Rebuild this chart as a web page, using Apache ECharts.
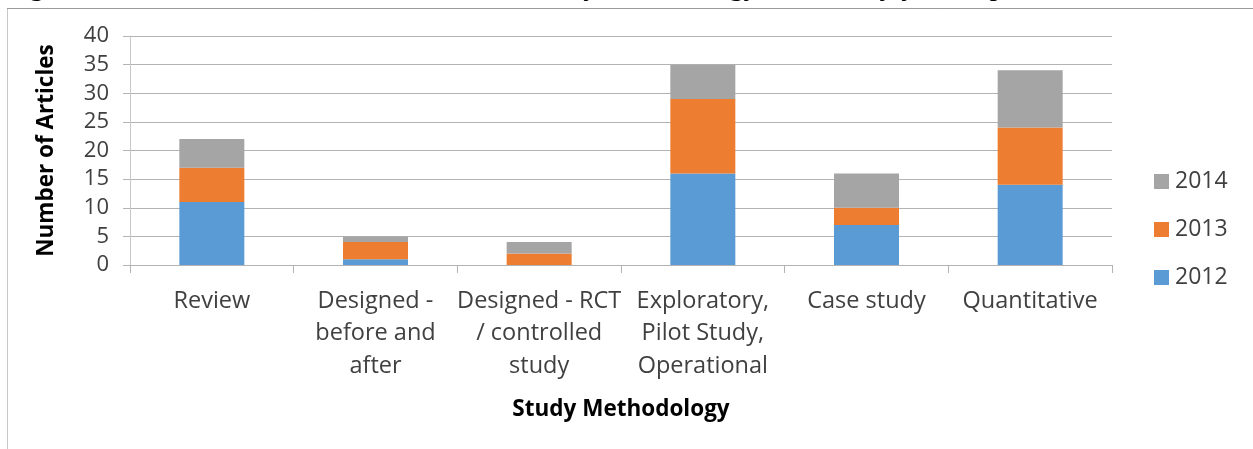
<!DOCTYPE html>
<html>
<head>
<meta charset="utf-8">
<script src="https://cdn.jsdelivr.net/npm/echarts@6/dist/echarts.min.js"></script>
<style>
  html, body { margin: 0; padding: 0; background: #fff; }
  #chart { width: 1253px; height: 449px; }
</style>
</head>
<body>
<div id="chart"></div>
<script>
// data
var categories = [
    'Review',
    'Designed -\nbefore and\nafter',
    'Designed - RCT\n/ controlled\nstudy',
    'Exploratory,\nPilot Study,\nOperational',
    'Case study',
    'Quantitative'
];
var years = ['2012', '2013', '2014'];
var y2012 = [11, 1, 0, 16, 7, 14];
var y2013 = [6, 3, 2, 13, 3, 10];
var y2014 = [5, 1, 2, 6, 6, 10];
var yTicks = [0, 5, 10, 15, 20, 25, 30, 35, 40];

var colors = ['#5B9BD5', '#ED7D31', '#A5A5A5'];
var font = '"Open Sans", "Noto Sans", sans-serif';

var chart = echarts.init(document.getElementById('chart'));

function makeSeries(name, data, color) {
    return {
        name: name,
        type: 'bar',
        stack: 'total',
        barWidth: 65,
        data: data,
        itemStyle: { color: color },
        emphasis: { disabled: true }
    };
}

var option = {
    animation: false,
    textStyle: { fontFamily: font },
    graphic: [
        // outer frame of the figure box
        {
            type: 'rect',
            shape: { x: 7.5, y: 8.5, width: 1300, height: 500 },
            style: { fill: 'none', stroke: '#c8c8c8', lineWidth: 1 },
            silent: true
        },
        {
            type: 'line',
            shape: { x1: 7, y1: 8.5, x2: 1253, y2: 8.5 },
            style: { stroke: '#9a9a9a', lineWidth: 1 },
            silent: true
        },
        // caption, clipped at the top edge
        {
            type: 'text',
            x: 5,
            y: -27.5,
            style: {
                text: 'Figure 4: Count of included articles based on study methodology, totalled by year of publication',
                font: '29px "Liberation Serif", serif',
                fill: '#000'
            },
            silent: true
        }
    ],
    legend: {
        orient: 'vertical',
        left: 1154,
        top: 170,
        padding: 0,
        itemWidth: 15,
        itemHeight: 15,
        itemGap: 25,
        data: ['2014', '2013', '2012'],
        icon: 'rect',
        textStyle: { fontSize: 23, color: '#404040', fontFamily: font, padding: [0, 0, 0, 1] },
        selectedMode: false
    },
    grid: {
        left: 130,
        right: 141,
        top: 36,
        bottom: 184
    },
    xAxis: {
        type: 'category',
        data: categories,
        name: 'Study Methodology',
        nameLocation: 'middle',
        nameGap: 133,
        nameTextStyle: { fontSize: 22.5, fontWeight: 'bold', color: '#000', fontFamily: font },
        axisLine: { lineStyle: { color: '#b3b3b3', width: 1 } },
        axisTick: { show: true, length: 8, lineStyle: { color: '#b3b3b3' } },
        axisLabel: {
            interval: 0,
            margin: 20,
            fontSize: 23.5,
            lineHeight: 32.5,
            color: '#404040'
        }
    },
    yAxis: {
        type: 'value',
        min: yTicks[0],
        max: yTicks[yTicks.length - 1],
        interval: 5,
        name: 'Number of Articles',
        nameLocation: 'middle',
        nameGap: 72,
        nameTextStyle: { fontSize: 22.5, fontWeight: 'bold', color: '#000', fontFamily: font },
        axisLine: { show: true, lineStyle: { color: '#c8c8c8', width: 1 } },
        axisTick: { show: true, length: 7, lineStyle: { color: '#b3b3b3' } },
        axisLabel: { margin: 21, fontSize: 22, color: '#404040' },
        splitLine: { lineStyle: { color: '#b3b3b3', width: 1 } }
    },
    series: [
        makeSeries(years[0], y2012, colors[0]),
        makeSeries(years[1], y2013, colors[1]),
        makeSeries(years[2], y2014, colors[2])
    ]
};

chart.setOption(option);
</script>
</body>
</html>
